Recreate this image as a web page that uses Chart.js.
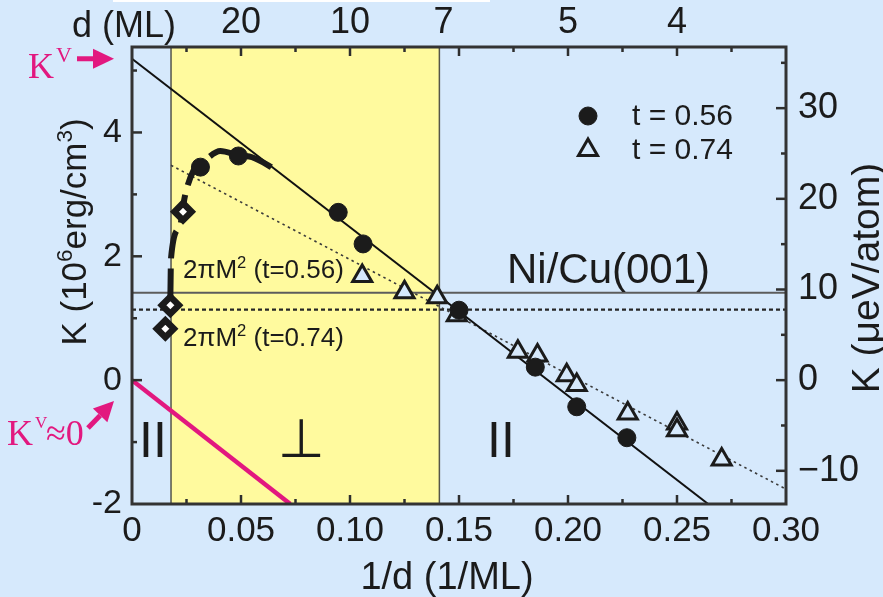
<!DOCTYPE html>
<html>
<head>
<meta charset="utf-8">
<script src="https://cdn.jsdelivr.net/npm/chart.js@4.4.1/dist/chart.umd.min.js"></script>
<style>
  html, body { margin: 0; padding: 0; background: #d6e9fc; }
  #wrap { width: 883px; height: 597px; }
</style>
</head>
<body>
<div id="wrap"><canvas id="chart" width="883" height="597"></canvas></div>
<script>
// Inverse Ni thickness 1/d (1/ML) against magnetic anisotropy K (10^6 erg/cm^3)
const circleX = [0.0314, 0.0488, 0.0946, 0.1060, 0.1500, 0.1850, 0.2040, 0.2270];
const circleK = [3.44, 3.62, 2.71, 2.20, 1.13, 0.21, -0.43, -0.93];

const triangleX = [0.1056, 0.1250, 0.1400, 0.1490, 0.1770, 0.1860, 0.1994, 0.2040, 0.2274, 0.2500, 0.2500, 0.2705];
const triangleK = [1.68, 1.42, 1.34, 1.05, 0.46, 0.40, 0.08, -0.08, -0.54, -0.70, -0.81, -1.28];

const diamondX = [0.0234, 0.0176, 0.0153];
const diamondK = [2.72, 1.21, 0.83];

// thick dashed guide through the reorientation region
const guideX = [0.0176, 0.0179, 0.0219, 0.0242, 0.0283, 0.0344, 0.0405, 0.0489, 0.0551, 0.0665];
const guideK = [1.35, 1.97, 2.47, 2.96, 3.39, 3.58, 3.70, 3.63, 3.60, 3.39];

// linear fits K = K^V - ... / d
const fit056X = [0, 0.2643];
const fit056K = [5.19, -2.0];
const fit074X = [0.0179, 0.30];
const fit074K = [3.47, -1.76];
const kvZeroX = [0, 0.0726];
const kvZeroK = [0, -2.0];

// shape anisotropy levels 2πM²
const shapeK056 = 1.41;
const shapeK074 = 1.14;

// perpendicular-magnetisation window (1/d)
const perpFrom = 0.0179;
const perpTo = 0.141;

// axes
const xMin = 0, xMax = 0.30, xStep = 0.025;
const kMin = -2, kMax = 5.38;
const ueVPerUnit = 6.83;           // 1e6 erg/cm^3 in µeV/atom for Ni
const dTickValues = [20, 10, 7, 5, 4];

const SANS = '"Liberation Sans", Arial, Helvetica, sans-serif';
const SERIF = '"Liberation Serif", "Times New Roman", serif';
const INK = '#1b1b1b';
const PINK = '#e2187f';
const BG = '#d6e9fc';
const YELLOW = '#fffa9e';

const pts = (xs, ys) => xs.map((v, i) => ({ x: v, y: ys[i] }));
const flat = (xs, k) => xs.map(v => ({ x: v, y: k }));

function drawRich(ctx, parts, x, y, size, family, align) {
  const supSize = size * 0.64;
  const widths = parts.map(([t, sup]) => {
    ctx.font = `${sup ? supSize : size}px ${family}`;
    return ctx.measureText(t).width;
  });
  const total = widths.reduce((a, b) => a + b, 0);
  let cx = align === 'center' ? x - total / 2 : x;
  ctx.textAlign = 'left';
  ctx.textBaseline = 'alphabetic';
  parts.forEach(([t, sup], i) => {
    ctx.font = `${sup ? supSize : size}px ${family}`;
    ctx.fillText(t, cx, sup ? y - size * 0.40 : y);
    cx += widths[i];
  });
}

function arrow(ctx, x0, y0, x1, y1, shaft, headLen, headHalf) {
  const ang = Math.atan2(y1 - y0, x1 - x0);
  const bx = x1 - Math.cos(ang) * headLen, by = y1 - Math.sin(ang) * headLen;
  ctx.lineWidth = shaft;
  ctx.beginPath(); ctx.moveTo(x0, y0); ctx.lineTo(bx, by); ctx.stroke();
  ctx.beginPath();
  ctx.moveTo(x1, y1);
  ctx.lineTo(bx + Math.sin(ang) * headHalf, by - Math.cos(ang) * headHalf);
  ctx.lineTo(bx - Math.sin(ang) * headHalf, by + Math.cos(ang) * headHalf);
  ctx.closePath(); ctx.fill();
}

const decor = {
  id: 'decor',
  beforeDraw(chart) {
    const { ctx, chartArea: a, scales: { x } } = chart;
    ctx.save();
    ctx.fillStyle = BG;
    ctx.fillRect(0, 0, chart.width, chart.height);
    ctx.fillStyle = '#ffffff';
    ctx.fillRect(113, 0, 377, 2);
    const x0 = x.getPixelForValue(perpFrom), x1 = x.getPixelForValue(perpTo);
    ctx.fillStyle = YELLOW;
    ctx.fillRect(x0, a.top, x1 - x0, a.bottom - a.top);
    ctx.strokeStyle = '#55554a';
    ctx.lineWidth = 1.5;
    ctx.beginPath();
    ctx.moveTo(x0, a.top); ctx.lineTo(x0, a.bottom);
    ctx.moveTo(x1, a.top); ctx.lineTo(x1, a.bottom);
    ctx.stroke();
    ctx.restore();
  },
  afterDatasetsDraw(chart) {
    const { ctx, chartArea: a, scales: { x, y, y2 } } = chart;
    ctx.save();
    ctx.strokeStyle = '#2e2e2e';
    ctx.lineWidth = 2.5;
    ctx.lineCap = 'butt';
    const seg = (p, q, r, s) => { ctx.beginPath(); ctx.moveTo(p, q); ctx.lineTo(r, s); ctx.stroke(); };
    x.ticks.forEach(t => {
      const px = x.getPixelForValue(t.value);
      if (px <= a.left + 2 || px >= a.right - 2) return;
      const major = Math.round(t.value * 1000) % 50 === 0;
      seg(px, a.bottom, px, a.bottom - (major ? 9 : 5));
      seg(px, a.top, px, a.top + (major ? 9 : 5));
    });
    y.ticks.forEach(t => {
      const py = y.getPixelForValue(t.value);
      if (py <= a.top + 2 || py >= a.bottom - 2) return;
      const major = Math.round(t.value) % 2 === 0;
      seg(a.left, py, a.left + (major ? 10 : 5), py);
    });
    y2.ticks.forEach(t => {
      const py = y2.getPixelForValue(t.value);
      if (py <= a.top + 2 || py >= a.bottom - 2) return;
      const major = Math.round(t.value) % 10 === 0;
      seg(a.right, py, a.right - (major ? 10 : 5), py);
    });
    ctx.lineWidth = 3;
    ctx.strokeStyle = '#333333';
    ctx.strokeRect(a.left, a.top, a.right - a.left, a.bottom - a.top);
    ctx.restore();
  },
  afterDraw(chart) {
    const { ctx, chartArea: a, scales: { x, y } } = chart;
    ctx.save();
    ctx.fillStyle = INK;

    // top axis caption
    ctx.font = `36px ${SANS}`;
    ctx.textAlign = 'left'; ctx.textBaseline = 'alphabetic';
    ctx.fillText('d (ML)', 72, 37);

    // bottom axis title
    ctx.font = `38px ${SANS}`;
    ctx.textAlign = 'center';
    ctx.fillText('1/d (1/ML)', 447, 589);

    // left axis title
    ctx.save();
    ctx.translate(86, 232);
    ctx.rotate(-Math.PI / 2);
    drawRich(ctx, [['K (10', 0], ['6', 1], ['erg/cm', 0], ['3', 1], [')', 0]], 0, 0, 35, SANS, 'center');
    ctx.restore();

    // right axis title
    ctx.save();
    ctx.translate(879, 278);
    ctx.rotate(-Math.PI / 2);
    ctx.font = `39px ${SANS}`;
    ctx.textAlign = 'center'; ctx.textBaseline = 'alphabetic';
    ctx.fillText('K (\u03BCeV/atom)', 0, 0);
    ctx.restore();

    // shape anisotropy labels
    drawRich(ctx, [['2\u03C0M', 0], ['2', 1], [' (t=0.56)', 0]], 183, 278, 26, SANS, 'left');
    drawRich(ctx, [['2\u03C0M', 0], ['2', 1], [' (t=0.74)', 0]], 183, 346, 26, SANS, 'left');

    // system label
    ctx.font = `42px ${SANS}`;
    ctx.textAlign = 'left';
    ctx.fillText('Ni/Cu(001)', 507, 283);

    // magnetisation direction labels
    ctx.font = `50px ${SANS}`;
    ctx.textAlign = 'center';
    ctx.fillText('II', 153, 457);
    ctx.fillText('II', 501, 457);
    ctx.font = `54px "DejaVu Sans", ${SANS}`;
    ctx.fillText('\u22A5', 301, 457);

    // legend
    const legend = [
      { ds: chart.data.datasets[0], y: 116, ty: 125 },
      { ds: chart.data.datasets[1], y: 150, ty: 159 }
    ];
    legend.forEach(item => {
      const ds = item.ds;
      ctx.fillStyle = ds.backgroundColor;
      ctx.strokeStyle = ds.borderColor;
      ctx.lineWidth = ds.borderWidth;
      Chart.helpers.drawPoint(ctx, { pointStyle: ds.pointStyle, radius: ds.pointRadius, borderWidth: ds.borderWidth, rotation: 0 }, 588, item.y);
      ctx.fillStyle = INK;
      ctx.font = `30px ${SANS}`;
      ctx.textAlign = 'left';
      ctx.fillText(ds.label, 632, item.ty);
    });

    // volume anisotropy markers
    ctx.fillStyle = PINK;
    ctx.strokeStyle = PINK;
    const kvY = y.getPixelForValue(fit056K[0]);
    ctx.font = `36px ${SERIF}`;
    ctx.textAlign = 'left';
    ctx.fillText('K', 28, 78);
    ctx.font = `22px ${SERIF}`;
    ctx.fillText('V', 56, 62);
    arrow(ctx, 77, kvY, 114, kvY, 5, 21, 10);

    ctx.font = `36px ${SERIF}`;
    ctx.fillText('K', 7, 445);
    ctx.font = `17px ${SERIF}`;
    ctx.fillText('V', 35, 428);
    ctx.font = `36px ${SERIF}`;
    ctx.fillText('\u22480', 46, 445);
    arrow(ctx, 88, 428, 114, 401, 5, 20, 10);

    ctx.restore();
  }
};

new Chart(document.getElementById('chart'), {
  type: 'scatter',
  data: {
    datasets: [
      { label: 't = 0.56', data: pts(circleX, circleK), pointStyle: 'circle', pointRadius: 9,
        backgroundColor: INK, borderColor: INK, borderWidth: 1, showLine: false, order: 0 },
      { label: 't = 0.74', data: pts(triangleX, triangleK), pointStyle: 'triangle', pointRadius: 11,
        backgroundColor: BG, borderColor: INK, borderWidth: 3, showLine: false, order: 1 },
      { label: 'diamonds', data: pts(diamondX, diamondK), pointStyle: 'rectRot', pointRadius: 8.5,
        backgroundColor: '#ffffff', borderColor: INK, borderWidth: 6.5, showLine: false, order: 0 },
      { label: 'guide', data: pts(guideX, guideK), showLine: true, pointRadius: 0,
        borderColor: INK, borderWidth: 6, borderDash: [28, 10], cubicInterpolationMode: 'monotone', order: 3 },
      { label: 'fit 0.56', data: pts(fit056X, fit056K), showLine: true, pointRadius: 0,
        borderColor: '#111111', borderWidth: 2, order: 4 },
      { label: 'fit 0.74', data: pts(fit074X, fit074K), showLine: true, pointRadius: 0,
        borderColor: '#3a3a3a', borderWidth: 1.6, borderDash: [2.5, 3.5], order: 4 },
      { label: 'K^V = 0', data: pts(kvZeroX, kvZeroK), showLine: true, pointRadius: 0,
        borderColor: PINK, borderWidth: 4.5, order: 4 },
      { label: '2πM² (t=0.56)', data: flat([xMin, xMax], shapeK056), showLine: true, pointRadius: 0,
        borderColor: '#5c5c5c', borderWidth: 2, order: 5 },
      { label: '2πM² (t=0.74)', data: flat([xMin, xMax], shapeK074), showLine: true, pointRadius: 0,
        borderColor: '#262626', borderWidth: 2.2, borderDash: [4, 3], order: 5 }
    ]
  },
  options: {
    responsive: false,
    animation: false,
    events: [],
    layout: { padding: 0 },
    plugins: { legend: { display: false }, tooltip: { enabled: false } },
    scales: {
      x: {
        type: 'linear', position: 'bottom', min: xMin, max: xMax,
        afterFit(s) { s.height = 93; },
        grid: { display: false, drawTicks: false }, border: { display: false },
        ticks: {
          stepSize: xStep, autoSkip: false, maxRotation: 0, includeBounds: false, padding: 6,
          color: INK, font: { family: SANS, size: 35 },
          callback(v) {
            const r = Math.round(v * 1000);
            if (r % 50 !== 0) return '';
            return r === 0 ? '0' : (r / 1000).toFixed(2);
          }
        }
      },
      xTop: {
        type: 'linear', position: 'top', min: xMin, max: xMax,
        afterFit(s) { s.height = 47; },
        afterBuildTicks(s) { s.ticks = dTickValues.map(d => ({ value: 1 / d })); },
        grid: { display: false, drawTicks: false }, border: { display: false },
        ticks: {
          autoSkip: false, maxRotation: 0, padding: 2,
          color: INK, font: { family: SANS, size: 36 },
          callback(v) { return String(Math.round(1 / v)); }
        }
      },
      y: {
        type: 'linear', position: 'left', min: kMin, max: kMax,
        afterFit(s) { s.width = 132; },
        grid: { display: false, drawTicks: false }, border: { display: false },
        ticks: {
          stepSize: 1, autoSkip: false, includeBounds: false, padding: 10,
          color: INK, font: { family: SANS, size: 34 },
          callback(v) { return Math.round(v) % 2 === 0 ? String(v) : ''; }
        }
      },
      y2: {
        type: 'linear', position: 'right', min: kMin * ueVPerUnit, max: kMax * ueVPerUnit,
        afterFit(s) { s.width = 97; },
        grid: { display: false, drawTicks: false }, border: { display: false },
        ticks: {
          stepSize: 5, autoSkip: false, includeBounds: false, padding: 12,
          color: INK, font: { family: SANS, size: 36 },
          callback(v) {
            const r = Math.round(v);
            if (r % 10 !== 0) return '';
            return r < 0 ? '\u2212' + Math.abs(r) : String(r);
          }
        }
      }
    }
  },
  plugins: [decor]
});
</script>
</body>
</html>
